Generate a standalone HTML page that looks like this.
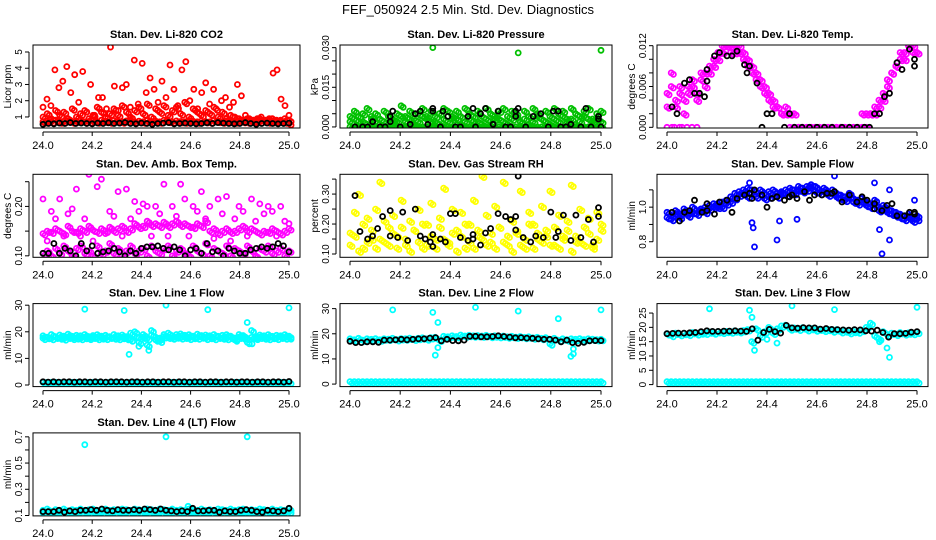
<!DOCTYPE html>
<html><head><meta charset="utf-8">
<style>
html,body{margin:0;padding:0;background:#fff;}
svg{display:block;font-family:"Liberation Sans",sans-serif;}
</style></head>
<body>
<svg id="chart" width="936" height="540" viewBox="0 0 936 540" xmlns="http://www.w3.org/2000/svg">
<text x="468" y="14" text-anchor="middle" font-size="13">FEF_050924  2.5 Min. Std. Dev. Diagnostics</text>
</svg>
<script>
// ---------- data ----------
const xTicks = [24.0, 24.2, 24.4, 24.6, 24.8, 25.0];
const xTickLabels = ["24.0","24.2","24.4","24.6","24.8","25.0"];

// Panel 1: Li-820 CO2
const co2RedHigh = [1.6,2.1,1.7,3.9,2.8,3.2,4.1,2.5,3.6,1.9,3.8,1.3,3.0,1.1,2.2,2.2,1.5,5.3,2.9,1.4,2.8,3.0,1.6,4.5,1.8,4.3,2.5,3.4,2.7,1.9,3.2,2.2,4.2,2.7,1.7,3.9,4.4,2.0,2.7,1.5,2.5,3.1,1.8,2.7,1.4,2.0,2.2,1.6,1.9,3.0,2.3,1.1,0.9,0.8,0.9,1.0,0.8,0.9,3.7,3.9,2.1,1.7,1.1];
const co2RedMid = [1.0,1.2,0.9,1.4,1.1,1.3,0.9,1.5,1.0,1.2,1.4,0.9,1.1,1.6,1.3,1.0,1.2,1.5,1.1,1.7,1.3,1.0,1.4,1.6,1.2,1.8,1.0,1.5,1.3,1.7,1.1,1.4,1.6,1.2,1.9,1.0,1.5,1.3,1.1,1.4,1.2,1.6,1.0,1.3,0.9,1.1,1.0,0.9,0.8,0.9,0.8,0.8,0.9,0.8,0.8,0.9,0.8,0.8,0.9,0.8];
const co2RedLow = [0.7,0.75,0.7,0.8,0.7,0.72,0.78,0.7,0.75,0.8,0.7,0.72,0.76,0.7,0.8,0.74,0.7,0.78,0.72,0.7,0.76,0.8,0.7,0.74,0.7,0.78,0.72,0.75,0.7,0.8,0.74,0.7,0.76,0.72,0.7,0.78,0.74,0.7,0.75,0.72,0.7,0.78,0.74,0.7,0.76,0.72,0.7,0.75,0.72,0.7,0.74,0.7,0.72,0.75,0.7,0.72,0.7,0.74,0.7,0.6];
const co2Black = [0.55,0.6,0.58,0.62,0.6,0.65,0.6,0.62,0.6,0.58,0.62,0.6,0.64,0.6,0.62,0.66,0.6,0.58,0.62,0.6,0.55,0.6,0.62,0.65,0.58,0.6,0.62,0.6,0.58,0.6,0.64,0.6,0.65,0.62,0.6,0.58,0.6,0.65,0.6,0.55,0.6,0.62,0.6,0.58,0.6,0.62];

// Panel 2: Pressure
const prGreenZero = [0,0,0,0,0,0,0,0,0,0,0,0,0,0,0,0,0,0,0,0,0,0,0,0,0,0,0,0,0,0,0,0,0,0,0,0,0,0,0,0,0,0,0,0,0,0,0,0,0,0,0,0,0,0,0,0,0,0,0,0];
const prGreenA = [0.004,0.006,0.002,0.005,0.007,0.003,0.005,0.001,0.006,0.004,0.002,0.005,0.008,0.004,0.006,0.003,0.005,0.007,0.004,0.006,0.002,0.005,0.007,0.006,0.003,0.006,0.004,0.007,0.005,0.002,0.006,0.004,0.007,0.005,0.003,0.006,0.007,0.004,0.006,0.005,0.002,0.006,0.004,0.007,0.005,0.003,0.006,0.004,0.007,0.005,0.006,0.003,0.007,0.005,0.004,0.006,0.007,0.003,0.005,0.006];
const prGreenB = [0.002,0.003,0.004,0.002,0.001,0.004,0.002,0.003,0.002,0.001,0.003,0.002,0.004,0.002,0.003,0.001,0.002,0.004,0.003,0.002,0.004,0.001,0.003,0.002,0.004,0.003,0.001,0.002,0.003,0.004,0.002,0.001,0.003,0.002,0.004,0.003,0.002,0.001,0.003,0.004,0.002,0.003,0.001,0.002,0.004,0.003,0.002,0.001,0.003,0.002,0.004,0.002,0.003,0.001,0.002,0.004,0.003,0.002,0.003,0.002];
const prOutX = [24.33, 24.67, 25.0];
const prOutY = [0.030, 0.028, 0.029];
const prBlackX = [24.02,24.05,24.07,24.09,24.12,24.14,24.16,24.16,24.17,24.2,24.24,24.26,24.28,24.31,24.33,24.33,24.36,24.37,24.39,24.42,24.44,24.47,24.49,24.5,24.52,24.54,24.57,24.59,24.62,24.64,24.66,24.66,24.67,24.7,24.73,24.76,24.79,24.81,24.83,24.84,24.86,24.88,24.92,24.94,24.96,24.99,24.99,25.0];
const prBlackY = [0,0,0,0.002,0,0,0.002,0.004,0.006,0,0.001,0.005,0.006,0.001,0.007,0.006,0,0.006,0.004,0,0,0.004,0.007,0,0.005,0.007,0.001,0.006,0,0,0.006,0.004,0.007,0,0.004,0.005,0,0.006,0.006,0,0,0.001,0,0.007,0,0.004,0.003,0];

// Panel 3: Li-820 Temp
const tmMagA = [0.005,0.008,0.003,0.006,0.004,0.006,0.007,0.005,0.008,0.006,0.009,0.010,0.011,0.012,0.012,0.012,0.012,0.011,0.011,0.010,0.009,0.008,0.007,0.006,0.005,0.004,0.003,0.002,0.002,0.002,0.002,0,0,0,0,0,0,0,0,0,0,0,0,0,0,0,0.002,0,0.002,0.002,0.003,0.004,0.006,0.008,0.009,0.010,0.011,0.012,0.011,0.011];
const tmMagB = [0.003,0.006,0.004,0.005,0.002,0.005,0.006,0.004,0.007,0.008,0.008,0.009,0.010,0.011,0.012,0.011,0.011,0.012,0.010,0.009,0.008,0.007,0.006,0.005,0.004,0.003,0.003,0.002,0.003,0,0,0,0,0,0,0,0,0,0,0,0,0,0,0,0,0,0,0.002,0.002,0.003,0.004,0.005,0.007,0.008,0.009,0.011,0.010,0.012,0.012,0.011];
const tmZeroX = [24.0,24.02,24.03,24.05,24.06,24.08,24.1,24.12];
const tmZeroY = [0,0,0,0,0,0,0,0];
const tmBlackX = [24.02,24.04,24.07,24.09,24.11,24.13,24.15,24.16,24.16,24.19,24.21,24.24,24.26,24.28,24.31,24.32,24.33,24.36,24.38,24.4,24.42,24.47,24.49,24.51,24.54,24.57,24.6,24.63,24.66,24.7,24.73,24.76,24.79,24.81,24.83,24.85,24.87,24.89,24.92,24.94,24.97,24.99,24.99];
const tmBlackY = [0.003,0.002,0.0065,0.007,0.005,0.005,0.0045,0.0085,0.0068,0.0105,0.011,0.0105,0.0105,0.0112,0.0092,0.008,0.009,0.0065,0,0.002,0.002,0,0.002,0,0,0,0,0,0,0,0,0,0,0,0.002,0.002,0.0045,0.005,0.0095,0.0085,0.0115,0.010,0.009];

// Panel 4: Amb. Box Temp
const abMagA = [0.145,0.15,0.148,0.155,0.15,0.145,0.16,0.15,0.148,0.155,0.15,0.16,0.152,0.148,0.155,0.15,0.158,0.15,0.155,0.16,0.15,0.155,0.165,0.158,0.16,0.17,0.162,0.165,0.16,0.168,0.16,0.165,0.17,0.162,0.165,0.16,0.158,0.165,0.16,0.17,0.15,0.155,0.145,0.15,0.155,0.148,0.15,0.155,0.16,0.15,0.155,0.15,0.145,0.15,0.148,0.155,0.15,0.145,0.15,0.155];
const abMagB = [0.215,0.13,0.19,0.175,0.215,0.14,0.185,0.195,0.235,0.14,0.175,0.265,0.13,0.24,0.255,0.145,0.19,0.18,0.23,0.14,0.235,0.175,0.21,0.19,0.205,0.2,0.14,0.2,0.185,0.245,0.14,0.2,0.18,0.245,0.215,0.14,0.2,0.19,0.23,0.175,0.2,0.135,0.215,0.185,0.22,0.13,0.175,0.2,0.19,0.14,0.215,0.17,0.205,0.185,0.2,0.19,0.14,0.2,0.17,0.165];
const abMagC = [0.105,0.11,0.1,0.115,0.105,0.12,0.11,0.1,0.115,0.12,0.105,0.11,0.1,0.12,0.105,0.11,0.125,0.105,0.115,0.1,0.11,0.12,0.105,0.11,0.115,0.1,0.12,0.11,0.105,0.115,0.12,0.1,0.11,0.115,0.105,0.1,0.12,0.11,0.105,0.125,0.1,0.115,0.11,0.105,0.12,0.1,0.115,0.11,0.105,0.12,0.11,0.1,0.115,0.11,0.12,0.105,0.11,0.115,0.1,0.11];
const abBlack = [0.105,0.105,0.125,0.105,0.115,0.11,0.1,0.125,0.11,0.12,0.105,0.108,0.11,0.115,0.108,0.1,0.11,0.105,0.115,0.118,0.118,0.12,0.115,0.112,0.118,0.112,0.1,0.112,0.115,0.105,0.125,0.108,0.11,0.1,0.115,0.11,0.105,0.105,0.112,0.115,0.118,0.115,0.118,0.125,0.12,0.108];

// Panel 5: Gas Stream RH
const rhYelA = [0.17,0.24,0.3,0.12,0.22,0.15,0.25,0.34,0.14,0.19,0.23,0.16,0.28,0.13,0.21,0.18,0.25,0.12,0.2,0.27,0.15,0.22,0.32,0.14,0.25,0.18,0.24,0.12,0.2,0.28,0.16,0.36,0.23,0.14,0.26,0.19,0.34,0.13,0.21,0.17,0.31,0.12,0.24,0.2,0.15,0.26,0.18,0.31,0.13,0.23,0.16,0.21,0.33,0.14,0.25,0.19,0.22,0.13,0.24,0.2];
const rhYelB = [0.13,0.16,0.11,0.2,0.14,0.18,0.12,0.15,0.21,0.13,0.17,0.12,0.19,0.15,0.11,0.18,0.14,0.2,0.13,0.16,0.12,0.19,0.15,0.13,0.17,0.11,0.16,0.2,0.14,0.12,0.18,0.15,0.13,0.17,0.12,0.19,0.14,0.16,0.11,0.18,0.13,0.15,0.2,0.12,0.17,0.14,0.16,0.13,0.19,0.12,0.15,0.18,0.11,0.16,0.14,0.13,0.17,0.12,0.15,0.18];
const rhBlackX = [24.02,24.04,24.07,24.09,24.11,24.13,24.16,24.16,24.19,24.21,24.23,24.26,24.28,24.3,24.32,24.33,24.33,24.36,24.38,24.4,24.42,24.44,24.47,24.49,24.49,24.52,24.54,24.56,24.59,24.62,24.64,24.66,24.66,24.67,24.69,24.72,24.74,24.77,24.8,24.82,24.83,24.85,24.88,24.9,24.92,24.95,24.97,24.99,24.99];
const rhBlackY = [0.295,0.175,0.15,0.16,0.185,0.225,0.16,0.245,0.155,0.24,0.145,0.25,0.16,0.15,0.14,0.165,0.125,0.15,0.14,0.235,0.235,0.155,0.145,0.165,0.15,0.13,0.17,0.185,0.235,0.225,0.215,0.18,0.225,0.36,0.155,0.14,0.16,0.155,0.24,0.155,0.175,0.23,0.145,0.23,0.155,0.215,0.14,0.255,0.225];

// Panel 6: Sample Flow
const sfBlueA = [0.97,0.95,0.98,0.96,0.99,0.97,1.0,0.98,0.99,1.0,1.01,1.02,1.0,1.03,1.04,1.06,1.08,1.09,1.1,1.11,1.1,1.09,1.1,1.08,1.09,1.1,1.08,1.09,1.1,1.11,1.1,1.12,1.11,1.12,1.13,1.12,1.1,1.11,1.09,1.1,1.08,1.07,1.06,1.08,1.05,1.04,1.05,1.03,1.02,1.04,1.0,1.01,0.99,0.98,0.97,0.96,0.95,0.96,0.94,0.95];
const sfBlueB = [0.94,0.93,0.96,0.94,0.97,0.95,0.97,0.96,0.98,0.97,0.99,1.0,1.02,1.0,1.02,1.03,1.05,1.07,1.08,1.06,1.08,1.06,1.07,1.05,1.06,1.07,1.06,1.08,1.07,1.09,1.08,1.1,1.09,1.1,1.11,1.09,1.08,1.09,1.07,1.08,1.06,1.05,1.04,1.06,1.03,1.02,1.03,1.01,1.0,1.02,0.98,0.99,0.97,0.96,0.95,0.94,0.93,0.94,0.92,0.93];
const sfOutX = [24.33,24.34,24.345,24.35,24.44,24.45,24.52,24.57,24.67,24.83,24.85,24.86,24.89,24.89,24.99];
const sfOutY = [1.14,0.91,0.88,0.77,0.81,0.92,0.93,1.12,1.18,1.14,0.87,0.73,1.1,0.81,1.04];
const sfBlackX = [24.02,24.05,24.07,24.09,24.11,24.14,24.16,24.16,24.19,24.21,24.24,24.26,24.28,24.31,24.33,24.34,24.35,24.38,24.4,24.42,24.44,24.47,24.49,24.5,24.52,24.55,24.57,24.59,24.62,24.64,24.66,24.67,24.7,24.73,24.76,24.78,24.8,24.83,24.83,24.86,24.88,24.9,24.92,24.95,24.97,24.99,24.99];
const sfBlackY = [0.97,0.92,0.97,0.98,1.04,0.97,0.98,1.02,0.96,1.03,1.04,0.97,1.05,1.07,1.08,1.05,1.1,1.07,1.0,1.05,1.06,1.04,1.06,1.07,1.05,1.09,1.04,1.07,1.07,1.08,1.08,1.09,1.03,1.07,1.03,1.06,1.04,0.99,1.02,0.98,1.01,1.02,0.95,0.95,0.97,0.96,0.97];

// Panel 7: Line 1 Flow
const l1CyanHigh = [18.5,18,19,18.2,18.8,18.4,19.1,18.3,18.7,18.5,19,18.2,18.6,18.9,18.4,18.7,18.2,19,18.5,18.8,17.5,19.5,20,16,18,15,20.5,17,16.5,19,19.5,18.5,19,19.2,18.7,18.9,18.4,19.1,18.6,18.8,18.5,19,18.3,18.7,18.9,18.4,17,19,18.6,16,20.5,18.2,18.8,18.5,18.9,18.3,18.7,18.5,18.9,18.4];
const l1CyanMid = [17.6,17.9,17.5,18,17.7,17.4,18,17.6,17.8,17.5,17.9,17.6,18,17.5,17.8,17.6,18,17.7,17.5,17.9,18.2,17,18.5,17.8,19,17.5,18.8,18,17.6,18.2,18,17.7,18.1,17.8,18,17.6,17.9,17.7,18.1,17.6,17.9,17.5,18,17.7,17.5,17.9,17.6,18,17.7,17.5,17.9,17.6,18,17.7,17.5,17.9,17.6,18,17.7,17.8];
const l1CyanLow = [1,1,1,1,1,1,1,1,1,1,1,1,1,1,1,1,1,1,1,1,1,1,1,1,1,1,1,1,1,1,1,1,1,1,1,1,1,1,1,1,1,1,1,1,1,1,1,1,1,1,1,1,1,1,1,1,1,1,1,1];
const l1OutX = [24.17,24.33,24.35,24.39,24.43,24.5,24.67,24.83,24.85,25.0];
const l1OutY = [28.5,28,11.5,14.5,13,30,28.3,23.5,15.5,29];
const l1Black = [1.2,1.1,1.2,1.1,1.2,1.2,1.1,1.2,1.2,1.1,1.2,1.2,1.1,1.2,1.2,1.2,1.1,1.2,1.2,1.1,1.2,1.2,1.1,1.2,1.2,1.1,1.2,1.2,1.1,1.2,1.2,1.1,1.2,1.2,1.1,1.2,1.2,1.1,1.2,1.2,1.1,1.2,1.2,1.1,1.2,1.2,1.1,1.3];

// Panel 8: Line 2 Flow
const l2CyanHigh = [18,17.6,18.2,17.5,18,17.8,18.1,17.6,18,17.9,18.2,17.7,18.1,18,18.3,17.9,18.2,18.4,18,18.5,18.6,17.5,19,18.8,19.2,18.9,19.5,19.1,19.4,19.2,19.3,19.1,19.4,19,19.2,18.9,19.1,18.8,19,18.7,18.9,18.6,18.8,18.4,18.6,18.2,18.5,16,18.2,17.5,18,17.6,18,17.8,18.1,17.7,18,17.9,17.7,17.8];
const l2CyanLow = [1,1,1,1,1,1,1,1,1,1,1,1,1,1,1,1,1,1,1,1,1,1,1,1,1,1,1,1,1,1,1,1,1,1,1,1,1,1,1,1,1,1,1,1,1,1,1,1,1,1,1,1,1,1,1,1,1,1,1,1];
const l2OutX = [24.17,24.33,24.34,24.35,24.35,24.5,24.67,24.83,24.88,24.89,24.89,25.0];
const l2OutY = [29.5,28.5,11.5,24.5,14.5,30.5,29,26,11,14,12,29.5];
const l2Black = [17,16.5,16.5,16.8,16.8,16.6,17.5,17.5,17.6,17.8,17.6,17.8,18,18,18.3,18.5,17.2,17.8,17.3,17.2,17.5,19,19,18.8,18.8,18.9,19.2,18.9,18.7,18.4,18.5,18.3,18.2,18,17.8,17.8,17.5,16.8,17.5,16.5,16.2,16.6,17.2,17.3,17.3];

// Panel 9: Line 3 Flow
const l3CyanHigh = [17.8,17.2,18,17.5,17.9,17.6,18.2,17.8,18.1,18,18.4,18.1,18.5,18.3,18.6,18.4,18.8,18.5,18.9,19.2,15,19.5,17,18.5,20,18,19.5,20.5,20.8,19.5,19.8,19.4,19.9,19.2,19.6,19.1,19.4,19,19.3,18.8,19.2,18.5,18.8,18.2,18.6,18.4,19,20,21.5,17,16,18.5,17.5,18,17.6,18.2,17.8,18.1,17.9,18.3];
const l3CyanLow = [1,1,1,1,1,1,1,1,1,1,1,1,1,1,1,1,1,1,1,1,1,1,1,1,1,1,1,1,1,1,1,1,1,1,1,1,1,1,1,1,1,1,1,1,1,1,1,1,1,1,1,1,1,1,1,1,1,1,1,1];
const l3OutX = [24.17,24.33,24.34,24.35,24.4,24.44,24.5,24.67,24.85,24.88,24.89,25.0];
const l3OutY = [26.5,26,23.5,12,15.8,14.5,27.5,26.2,15,12.8,9.5,27];
const l3Black = [17.8,17.9,18,18,18.1,18.2,18.5,18.8,18.6,18.6,18.7,18.7,18.8,18.7,18.6,19.5,15.5,18.2,19.3,18.5,18,20.7,19.8,19.7,19.9,19.8,19.8,19.4,19.6,19.3,19.2,19.1,19,19.2,19.1,18.8,18.7,19,18.2,16.6,17.8,17.8,17.9,18.3,18.5];

// Panel 10: Line 4 (LT) Flow
const l4CyanA = [0.14,0.15,0.13,0.145,0.14,0.15,0.135,0.145,0.14,0.15,0.14,0.145,0.15,0.14,0.145,0.15,0.14,0.145,0.14,0.15,0.145,0.14,0.15,0.145,0.14,0.15,0.145,0.14,0.15,0.145,0.14,0.15,0.14,0.145,0.14,0.15,0.145,0.14,0.15,0.14,0.145,0.14,0.15,0.145,0.14,0.15,0.14,0.145,0.15,0.14,0.145,0.14,0.15,0.145,0.14,0.15,0.14,0.145,0.14,0.15];
const l4CyanB = [0.12,0.13,0.125,0.13,0.12,0.13,0.125,0.13,0.12,0.125,0.13,0.12,0.13,0.125,0.12,0.13,0.125,0.12,0.13,0.125,0.12,0.13,0.12,0.125,0.13,0.12,0.13,0.125,0.12,0.13,0.125,0.12,0.13,0.125,0.12,0.13,0.125,0.12,0.13,0.125,0.12,0.13,0.12,0.125,0.13,0.12,0.125,0.13,0.12,0.125,0.13,0.12,0.11,0.125,0.13,0.12,0.125,0.13,0.12,0.13];
const l4OutX = [24.17,24.5,24.83,24.59];
const l4OutY = [0.64,0.70,0.70,0.17];
const l4Black = [0.13,0.13,0.13,0.14,0.125,0.135,0.13,0.14,0.14,0.145,0.14,0.15,0.14,0.135,0.145,0.14,0.14,0.145,0.14,0.15,0.145,0.14,0.15,0.14,0.135,0.13,0.135,0.13,0.155,0.135,0.135,0.14,0.14,0.125,0.135,0.13,0.13,0.14,0.145,0.14,0.13,0.125,0.14,0.135,0.13,0.135,0.155];

// ---------- layout ----------
const NS = "http://www.w3.org/2000/svg";
const svg = document.getElementById("chart");
const colX0 = [43, 350, 667];
const colX1 = [289, 601, 917];
function rowTop(r){ return 45 + r*129.3; }
const BOX_H = 83;

function el(tag, attrs, parent){
  const e = document.createElementNS(NS, tag);
  for (const k in attrs) e.setAttribute(k, attrs[k]);
  (parent||svg).appendChild(e);
  return e;
}
function evenX(n){ const a=[]; for(let i=0;i<n;i++) a.push(24.0 + i/(n-1)); return a; }

// series: [xArray|null, yArray, color, dense]
const panels = [
  {key:"co2", title:"Stan. Dev. Li-820 CO2", ylab:"Licor ppm", r:0,c:0, ylim:[0.32,5.43],
   yt:[1,2,3,4,5], ytl:["1","2","3","4","5"],
   series:[[null,co2RedLow,"#ff0000",1],[null,co2RedMid,"#ff0000",1],[null,co2RedHigh,"#ff0000",0],[null,co2Black,"#000",0]]},
  {key:"pressure", title:"Stan. Dev. Li-820 Pressure", ylab:"kPa", r:0,c:1, ylim:[-0.0004,0.031],
   yt:[0,0.005,0.01,0.015,0.02,0.025,0.03], ytl:["0.000","","","0.015","","","0.030"],
   series:[[null,prGreenZero,"#00c000",1],[null,prGreenB,"#00c000",1],[null,prGreenA,"#00c000",1],[prOutX,prOutY,"#00c000",0],[prBlackX,prBlackY,"#000",0]]},
  {key:"li820-temp", title:"Stan. Dev. Li-820 Temp.", ylab:"degrees C", r:0,c:2, ylim:[-0.0001,0.0121],
   yt:[0,0.002,0.004,0.006,0.008,0.01,0.012], ytl:["0.000","","","0.006","","","0.012"],
   series:[[null,tmMagB,"#ff00ff",1],[null,tmMagA,"#ff00ff",1],[tmZeroX,tmZeroY,"#ff00ff",0],[tmBlackX,tmBlackY,"#000",0]]},
  {key:"amb-temp", title:"Stan. Dev. Amb. Box Temp.", ylab:"degrees C", r:1,c:0, ylim:[0.097,0.265],
   yt:[0.1,0.15,0.2,0.25], ytl:["0.10","","0.20",""],
   series:[[null,abMagC,"#ff00ff",1],[null,abMagA,"#ff00ff",1],[null,abMagB,"#ff00ff",0],[null,abBlack,"#000",0]]},
  {key:"rh", title:"Stan. Dev. Gas Stream RH", ylab:"percent", r:1,c:1, ylim:[0.089,0.366],
   yt:[0.1,0.15,0.2,0.25,0.3,0.35], ytl:["0.10","","0.20","","0.30",""],
   series:[[null,rhYelB,"#ffff00",1],[null,rhYelA,"#ffff00",1],[rhBlackX,rhBlackY,"#000",0]]},
  {key:"sample-flow", title:"Stan. Dev. Sample Flow", ylab:"ml/min", r:1,c:2, ylim:[0.71,1.19],
   yt:[0.8,0.9,1.0,1.1], ytl:["0.8","","1.0",""],
   series:[[null,sfBlueB,"#0000ff",1],[null,sfBlueA,"#0000ff",1],[sfOutX,sfOutY,"#0000ff",0],[sfBlackX,sfBlackY,"#000",0]]},
  {key:"line1", title:"Stan. Dev. Line 1 Flow", ylab:"ml/min", r:2,c:0, ylim:[-0.6,30.6],
   yt:[0,10,20,30], ytl:["0","10","20","30"],
   series:[[null,l1CyanLow,"#00ffff",1],[null,l1CyanMid,"#00ffff",1],[null,l1CyanHigh,"#00ffff",1],[l1OutX,l1OutY,"#00ffff",0],[null,l1Black,"#000",0]]},
  {key:"line2", title:"Stan. Dev. Line 2 Flow", ylab:"ml/min", r:2,c:1, ylim:[-1,32],
   yt:[0,10,20,30], ytl:["0","10","20","30"],
   series:[[null,l2CyanLow,"#00ffff",1],[null,l2CyanHigh,"#00ffff",1],[l2OutX,l2OutY,"#00ffff",0],[null,l2Black,"#000",0]]},
  {key:"line3", title:"Stan. Dev. Line 3 Flow", ylab:"ml/min", r:2,c:2, ylim:[-0.7,28.3],
   yt:[0,5,10,15,20,25], ytl:["0","5","10","15","20","25"],
   series:[[null,l3CyanLow,"#00ffff",1],[null,l3CyanHigh,"#00ffff",1],[l3OutX,l3OutY,"#00ffff",0],[null,l3Black,"#000",0]]},
  {key:"line4", title:"Stan. Dev. Line 4 (LT) Flow", ylab:"ml/min", r:3,c:0, ylim:[0.097,0.73],
   yt:[0.1,0.2,0.3,0.4,0.5,0.6,0.7], ytl:["0.1","","0.3","","0.5","","0.7"],
   series:[[null,l4CyanB,"#00ffff",1],[null,l4CyanA,"#00ffff",1],[l4OutX,l4OutY,"#00ffff",0],[null,l4Black,"#000",0]]}
];

panels.forEach(p => {
  const x0 = colX0[p.c], x1 = colX1[p.c];
  const top = rowTop(p.r), bot = top + BOX_H;
  const left = x0 - 10, right = x1 + 11;
  const xs = v => x0 + (v - 24.0) * (x1 - x0);
  const ys = v => bot - (v - p.ylim[0]) / (p.ylim[1] - p.ylim[0]) * BOX_H;

  const g = el("g", {});
  
  

  const t = el("text", {x:(left+right)/2, y:top-7, "text-anchor":"middle", "font-size":"11", "font-weight":"bold"}, g);
  t.textContent = p.title;
  
  

  const clipId = "clip-" + p.key;
  const cp = el("clipPath", {id:clipId}, g);
  el("rect", {x:left, y:top, width:right-left, height:BOX_H}, cp);
  const pg = el("g", {"clip-path":"url(#"+clipId+")"}, g);
  
  
  p.series.forEach(s => {
    const yv = s[1];
    const xv = s[0] || evenX(yv.length);
    const half = s[0] ? 0 : (x1 - x0) / (yv.length - 1) / 2;
    const passes = s[3] ? [0, half] : [0];
    passes.forEach((dx, k) => {
      yv.forEach((v, i) => {
        const cx = xs(xv[i]) + dx;
        const cy = ys(v) + (k ? 1.5 : 0);
        const c = el("circle", {cx:cx.toFixed(1), cy:cy.toFixed(1), r:"2.5", fill:"none", stroke:s[2], "stroke-width":"1.8"}, pg);
        
        
      });
    });
  });

  const box = el("rect", {x:left, y:top, width:right-left, height:BOX_H, fill:"none", stroke:"#000", "stroke-width":"1"}, g);
  
  

  const xa = el("g", {}, g);
  
  
  el("line", {x1:xs(xTicks[0]), x2:xs(xTicks[xTicks.length-1]), y1:bot+4, y2:bot+4, stroke:"#000"}, xa);
  xTicks.forEach((v, i) => {
    el("line", {x1:xs(v), x2:xs(v), y1:bot+4, y2:bot+8, stroke:"#000"}, xa);
    const tl = el("text", {x:xs(v), y:bot+21, "text-anchor":"middle", "font-size":"11"}, xa);
    tl.textContent = xTickLabels[i];
    
    
  });

  const ya = el("g", {}, g);
  
  
  const ax = left - 4;
  el("line", {x1:ax, x2:ax, y1:ys(p.yt[0]), y2:ys(p.yt[p.yt.length-1]), stroke:"#000"}, ya);
  p.yt.forEach((v, i) => {
    const yy = ys(v);
    el("line", {x1:ax-4, x2:ax, y1:yy, y2:yy, stroke:"#000"}, ya);
    if (p.ytl[i]) {
      const tl = el("text", {x:ax-7, y:yy, "text-anchor":"middle", "font-size":"10", transform:"rotate(-90 "+(ax-7)+" "+yy+")"}, ya);
      tl.textContent = p.ytl[i];
      
      
    }
  });
  const my = (top + bot) / 2, tx = left - 22;
  const yt = el("text", {x:tx, y:my, "text-anchor":"middle", "font-size":"10", transform:"rotate(-90 "+tx+" "+my+")"}, ya);
  yt.textContent = p.ylab;
  
  
});
</script>
</body></html>
